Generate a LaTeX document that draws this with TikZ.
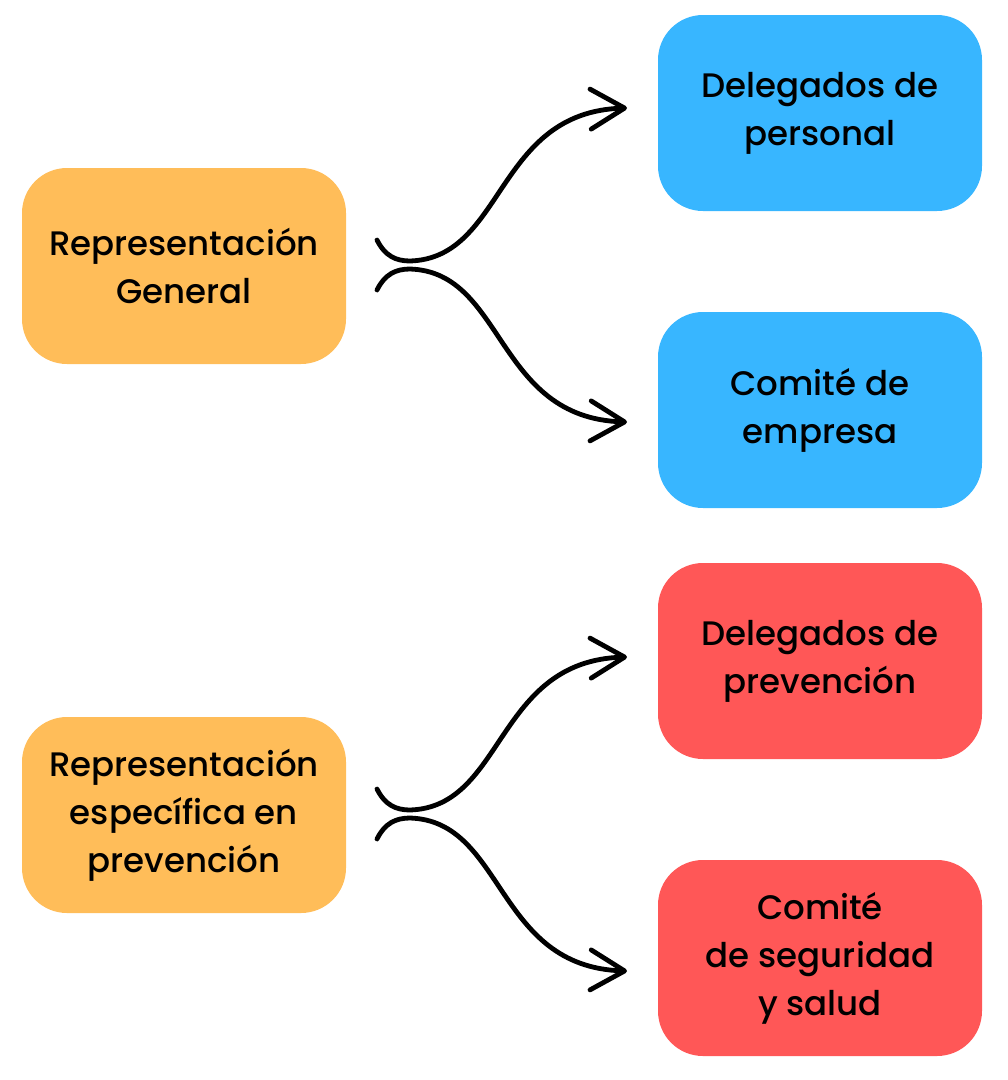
\documentclass[tikz,border=0pt]{standalone}
\usepackage{fontspec}
\setmainfont{Poppins}[UprightFont={* Medium}]
\usetikzlibrary{arrows.meta}
\definecolor{genorange}{HTML}{FFBD59}
\definecolor{repblue}{HTML}{38B6FF}
\definecolor{prevred}{HTML}{FF5757}
\tikzset{
  repbox/.style={rounded corners=45pt, minimum width=324pt, minimum height=196pt,
    align=center, inner sep=0pt, font=\fontsize{34}{48}\selectfont},
  hookarrow/.style={line width=4.8pt, line cap=round,
    -{Straight Barb[length=34pt, width=40pt, round]}},
}
\begin{document}
\begin{tikzpicture}[x=1pt,y=-1pt]
\useasboundingbox (0,0) rectangle (1008,1080);
\node[repbox, fill=genorange] (Rgen) at (184,266) {Representación\\General};
\node[repbox, fill=genorange] (Rprev) at (184,815) {Representación\\específica en\\prevención};
\node[repbox, fill=repblue] (Dpers) at (820,113) {Delegados de\\personal};
\node[repbox, fill=repblue] (Cemp) at (820,410) {Comité de\\empresa};
\node[repbox, fill=prevred] (Dprev) at (820,661) {Delegados de\\prevención};
\node[repbox, fill=prevred] (Cseg) at (820,958) {Comité\\de seguridad\\y salud};

% free ends of the arrows
\coordinate (gen-a) at (377,240);
\coordinate (gen-b) at (377,290);
\coordinate (pers-tip) at (627,108);
\coordinate (emp-tip) at (627,422);
\coordinate (prev-a) at (377,789);
\coordinate (prev-b) at (377,839);
\coordinate (dprev-tip) at (627,657);
\coordinate (cseg-tip) at (627,971);

\draw[hookarrow] (gen-a) .. controls (385,256) and (396,261) .. (410,261)
  .. controls (505,258) and (495,112) .. (pers-tip);
\draw[hookarrow] (gen-b) .. controls (385,274) and (396,269) .. (410,269)
  .. controls (505,272) and (495,418) .. (emp-tip);
\draw[hookarrow] (prev-a) .. controls (385,805) and (396,810) .. (410,810)
  .. controls (505,807) and (495,661) .. (dprev-tip);
\draw[hookarrow] (prev-b) .. controls (385,823) and (396,818) .. (410,818)
  .. controls (505,821) and (495,967) .. (cseg-tip);
\end{tikzpicture}
\end{document}
